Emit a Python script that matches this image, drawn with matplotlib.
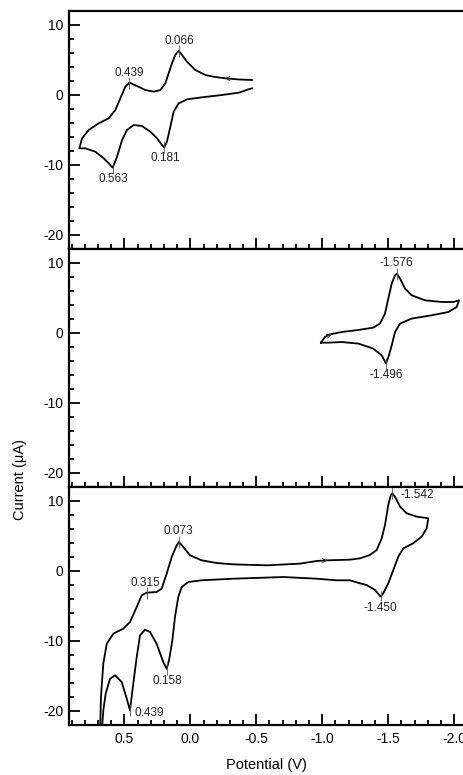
import numpy as np
import matplotlib
matplotlib.use("Agg")
import matplotlib.pyplot as plt
from matplotlib.ticker import MultipleLocator

plt.rcParams['font.family'] = ['Liberation Sans', 'DejaVu Sans']
plt.rcParams['axes.unicode_minus'] = False

# -----------------------------------------------------------------------------
# Data (potential in V, current in uA)

# top panel
top_v = [-0.467, -0.367, -0.265, -0.180, -0.114, -0.038, 0.025, 0.063, 0.088, 0.114,
         0.139, 0.164, 0.189, 0.227, 0.277, 0.341, 0.404, 0.462, 0.492, 0.530,
         0.568, 0.618, 0.694, 0.770, 0.820, 0.841,
         0.795, 0.720, 0.656, 0.618, 0.588, 0.555, 0.517, 0.480, 0.429, 0.366,
         0.303, 0.252, 0.214, 0.197, 0.177, 0.151, 0.126, 0.088, 0.025, -0.089,
         -0.240, -0.367, -0.442, -0.467]
top_i = [2.14, 2.22, 2.38, 2.60, 2.86, 3.57, 4.76, 5.71, 6.33, 5.71,
         4.52, 3.10, 1.67, 0.71, 0.48, 0.71, 1.29, 1.76, 1.19, -0.48,
         -2.14, -3.33, -4.05, -5.00, -6.19, -7.62,
         -7.62, -8.10, -9.05, -9.76, -10.38, -8.81, -6.43, -5.00, -4.29, -4.43,
         -5.24, -6.19, -7.14, -7.48, -6.67, -4.52, -2.38, -1.19, -0.62, -0.33,
         0.00, 0.33, 0.81, 0.95]
top_peak_v = [0.088, 0.462, 0.588, 0.197]
top_peak_i = [6.33, 1.76, -10.38, -7.48]

# middle panel
mid_v = [-0.990, -1.020, -1.058, -1.147, -1.273, -1.386, -1.437, -1.475, -1.500,
         -1.526, -1.551, -1.564, -1.589, -1.627, -1.677, -1.778, -1.905, -1.992,
         -2.036, -2.018, -1.955, -1.829, -1.677, -1.589, -1.551, -1.526, -1.505,
         -1.483, -1.450, -1.386, -1.273, -1.147, -1.046, -0.990]
mid_i = [-1.38, -0.57, -0.19, 0.14, 0.43, 0.77, 1.34, 2.77, 4.91,
         7.05, 8.24, 8.48, 7.77, 6.34, 5.39, 4.67, 4.43, 4.43,
         4.67, 3.71, 3.00, 2.53, 2.06, 1.34, 0.14, -1.76, -3.19,
         -4.37, -3.19, -2.23, -1.51, -1.29, -1.38, -1.38]
mid_peak_v = [-1.564, -1.483]
mid_peak_i = [8.48, -4.37]

# bottom panel
bot_v = [0.686, 0.677, 0.659, 0.633, 0.583, 0.508, 0.457, 0.406, 0.368, 0.330,
         0.255, 0.217, 0.179, 0.141, 0.103, 0.086, 0.053, 0.002, -0.086, -0.200,
         -0.326, -0.579, -0.831, -0.958, -1.033, -1.210, -1.286, -1.361, -1.412,
         -1.450, -1.475, -1.500, -1.518, -1.530, -1.551, -1.589, -1.639, -1.715,
         -1.803, -1.791, -1.753, -1.689, -1.614, -1.576, -1.538, -1.500, -1.462,
         -1.442, -1.399, -1.336, -1.286, -1.210, -1.109, -0.958, -0.705, -0.326,
         -0.086, 0.015, 0.065, 0.091, 0.116, 0.136, 0.161, 0.179, 0.205, 0.255,
         0.305, 0.343, 0.381, 0.406, 0.432, 0.457, 0.482, 0.520, 0.570, 0.608,
         0.641, 0.659, 0.667, 0.670]
bot_i = [-25.0, -18.0, -13.2, -10.4, -8.95, -8.24, -7.29, -5.14, -3.48, -3.09,
         -3.00, -2.52, -0.38, 2.00, 3.67, 4.14, 3.43, 2.24, 1.53, 1.14,
         0.95, 0.81, 1.05, 1.43, 1.52, 1.62, 1.81, 2.29, 3.00,
         4.67, 6.57, 9.43, 10.77, 11.10, 10.60, 9.20, 8.24, 7.77,
         7.53, 6.10, 4.91, 3.96, 3.24, 2.06, 0.14, -1.76, -3.19,
         -3.66, -2.71, -2.00, -1.76, -1.33, -1.33, -1.10, -0.86, -1.10,
         -1.33, -1.57, -2.29, -3.71, -6.57, -9.90, -12.76, -13.95, -13.00, -10.40,
         -8.71, -8.38, -9.19, -12.29, -16.10, -19.90, -18.20, -15.86, -14.90, -15.40,
         -17.50, -19.90, -22.00, -25.0]
bot_peak_v = [0.086, 0.330, 0.179, 0.457, -1.530, -1.442]
bot_peak_i = [4.14, -3.09, -13.95, -19.90, 11.10, -3.66]

# peak labels: (text, x, y, ha, va)
top_labels = [("0.066", 0.086, 6.9, "center", "bottom"),
              ("0.439", 0.462, 2.3, "center", "bottom"),
              ("0.563", 0.587, -11.1, "center", "top"),
              ("0.181", 0.192, -8.1, "center", "top")]
mid_labels = [("-1.576", -1.562, 9.1, "center", "bottom"),
              ("-1.496", -1.483, -5.1, "center", "top")]
bot_labels = [("0.073", 0.088, 4.8, "center", "bottom"),
              ("0.315", 0.338, -2.5, "center", "bottom"),
              ("0.158", 0.172, -14.8, "center", "top"),
              ("0.439", 0.425, -20.3, "left", "center"),
              ("-1.542", -1.595, 10.9, "left", "center"),
              ("-1.450", -1.437, -4.4, "center", "top")]

# scan direction arrows (from, to)
arrows = [((-0.31, 2.33), (-0.24, 2.43)),
          ((-1.03, -0.50), (-1.09, -0.08)),
          ((-1.00, 1.49), (-1.06, 1.54))]

# -----------------------------------------------------------------------------

fig = plt.figure(figsize=(4.63, 7.75), dpi=100)

left = 69 / 463
h = 238 / 775
bottoms = [1 - 249 / 775, 1 - 487 / 775, 1 - 725 / 775]

panels = [(top_v, top_i, top_peak_v, top_peak_i, top_labels),
          (mid_v, mid_i, mid_peak_v, mid_peak_i, mid_labels),
          (bot_v, bot_i, bot_peak_v, bot_peak_i, bot_labels)]

for n, (v, i, pv, pi, labels) in enumerate(panels):
    ax = fig.add_axes([left, bottoms[n], 1 - left, h])
    ax.plot(v, i, color="black", linewidth=1.3, solid_joinstyle="round")
    ax.plot(pv, pi, linestyle="none", marker="|", markersize=8,
            markeredgewidth=0.6, color="#555555")
    for txt, x, y, ha, va in labels:
        ax.text(x, y, txt, fontsize=8.5, ha=ha, va=va, color="#222222")
    a0, a1 = arrows[n]
    ax.annotate("", xy=a1, xytext=a0,
                arrowprops=dict(arrowstyle="->", lw=0.7, color="#333333",
                                mutation_scale=7))

    ax.set_xlim(0.919, -2.066)
    ax.set_ylim(-22, 12)
    ax.yaxis.set_major_locator(MultipleLocator(10))
    ax.yaxis.set_minor_locator(MultipleLocator(2))
    ax.xaxis.set_major_locator(MultipleLocator(0.5))
    ax.xaxis.set_minor_locator(MultipleLocator(0.1))
    ax.tick_params(which="both", direction="in", width=1.3, top=False, right=False)
    ax.tick_params(which="major", length=8, labelsize=10)
    ax.tick_params(which="minor", length=3.5)
    ax.tick_params(axis="y", which="major", pad=4)
    for s in ["left", "bottom", "top"]:
        ax.spines[s].set_linewidth(1.6)
    ax.spines["right"].set_visible(False)
    if n < 2:
        ax.tick_params(axis="x", labelbottom=False)
    else:
        ax.set_xticks([0.5, 0.0, -0.5, -1.0, -1.5, -2.0])
        ax.set_xticklabels(["0.5", "0.0", "-0.5", "-1.0", "-1.5", "-2.0"])
        ax.tick_params(axis="x", which="major", pad=5)
        ax.set_xlabel("Potential (V)", fontsize=10.5, labelpad=9)

fig.text(20 / 463, 1 - 480 / 775, "Current (\u03bcA)", rotation=90,
         fontsize=10.5, ha="center", va="center")

plt.savefig("out.png", dpi=100)
